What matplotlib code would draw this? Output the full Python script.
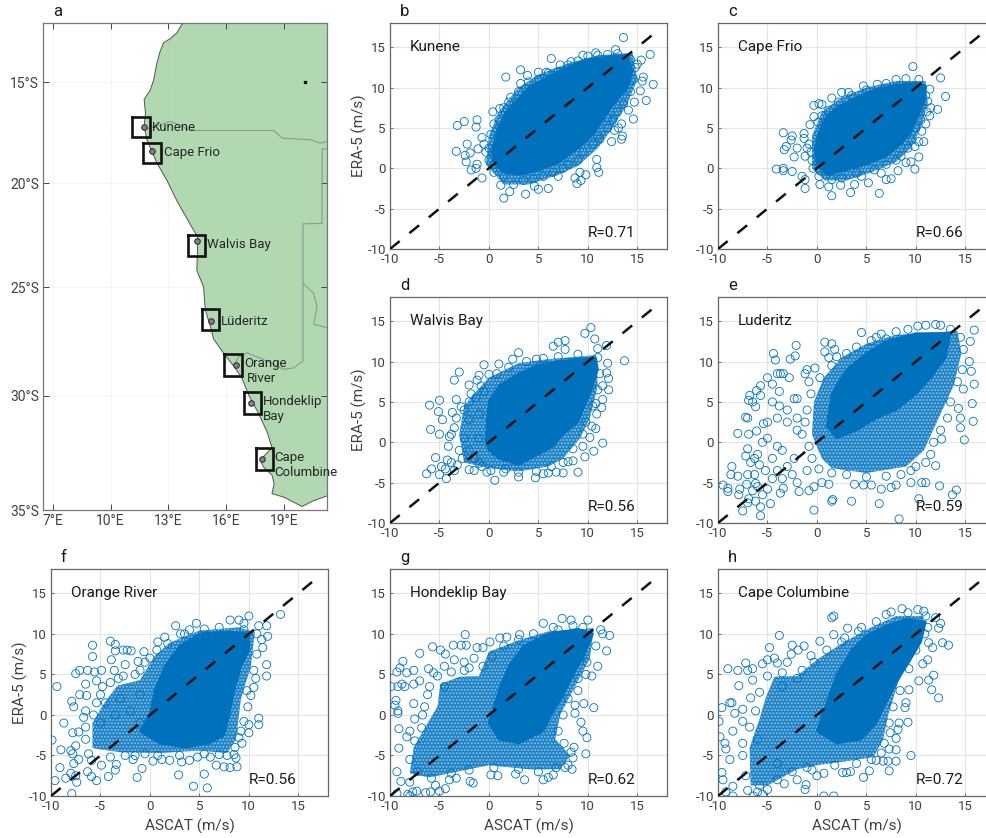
import numpy as np
import matplotlib
matplotlib.use('Agg')
import matplotlib.pyplot as plt

plt.rcParams['font.family'] = ['Roboto', 'DejaVu Sans']
plt.rcParams['axes.unicode_minus'] = False
plt.rcParams['hatch.linewidth'] = 0.35

# ---- map data (lon E, lat S) ----
coast_lon = [13.75, 13.44, 13.09, 12.75, 12.57, 12.4, 12.23, 12.05, 11.74, 11.81, 11.74, 11.88, 12.4, 12.92, 13.44, 14.14,
             14.52, 14.52, 14.48, 14.83, 14.92, 15.18, 15.35, 15.9, 16.4, 16.83, 17.17, 17.7, 18.13, 18.39, 17.78, 17.95,
             18.39, 18.5, 18.39, 19.0, 19.95, 20.56, 21.25]
coast_lat = [12.0, 12.5, 12.8, 13.0, 13.45, 14.05, 14.9, 15.4, 15.85, 16.55, 17.2, 17.85, 19.0, 19.85, 20.85, 22.0,
             22.6, 23.0, 24.2, 24.97, 26.05, 26.8, 27.4, 28.1, 28.65, 29.2, 29.95, 30.8, 31.6, 32.3, 32.85, 33.15,
             33.5, 33.87, 34.3, 34.45, 34.85, 34.6, 34.4]
angola_lon = [11.88, 12.57, 13.09, 13.53, 14.14, 18.48, 18.9, 20.39, 20.9, 21.25]
angola_lat = [17.33, 17.12, 16.95, 17.12, 17.4, 17.4, 17.78, 17.86, 18.03, 17.95]
namibia_lon = [21.25, 21.0, 20.99, 20.0, 20.0, 19.52, 19.0, 18.13, 17.09, 16.65, 16.4]
namibia_lat = [18.31, 18.31, 21.95, 21.97, 28.42, 28.73, 28.8, 28.42, 28.04, 28.22, 28.65]
botswana_lon = [20.0, 20.56, 20.73, 20.56, 21.25]
botswana_lat = [24.8, 25.28, 25.9, 26.73, 26.88]

station_lon = [11.74, 12.16, 14.5, 15.21, 16.5, 17.28, 17.87]
station_lat = [17.22, 18.44, 22.8, 26.58, 28.58, 30.3, 32.82]
box_w = [11.13, 11.7, 14.0, 14.73, 15.9, 16.91, 17.54]
box_e = [12.02, 12.6, 14.92, 15.62, 16.81, 17.82, 18.42]
box_n = [16.75, 18.0, 22.52, 26.0, 28.1, 29.82, 32.3]
box_s = [17.74, 19.02, 23.5, 27.0, 29.08, 30.8, 33.27]
map_labels = ['Kunene', 'Cape Frio', 'Walvis Bay', 'Lüderitz', 'Orange', 'River', 'Hondeklip', 'Bay', 'Cape', 'Columbine']
map_label_lon = [12.14, 12.75, 15.0, 15.73, 16.96, 17.1, 17.92, 17.92, 18.5, 18.5]
map_label_lat = [17.25, 18.47, 22.98, 26.61, 28.52, 29.2, 30.24, 30.92, 32.72, 33.4]

lon_ticks = [7, 10, 13, 16, 19]
lat_ticks = [15, 20, 25, 30, 35]

# ---- scatter data ----
# The reference has thousands of overlapping circles. The *_pts lists are circles read
# by eye; *_core / *_mid are outlines, traced by hand, of the areas where circles merge
# into solid colour (core) or a tight mesh (mid). The polygons stand in for the unreadable
# overlap, they are not individual measurements.
kunene_pts = [(13.6,16.2),(12.8,14.7),(10.8,14.3),(9.5,14.0),(6.3,13.6),(3.2,12.2),(1.7,11.3),(16.3,14.1),(15.4,13.4),(15.0,12.9),
    (15.6,11.3),(15.5,10.8),(16.6,10.4),(15.3,9.6),(15.9,8.4),(14.7,8.2),(14.1,7.2),(14.6,6.1),(13.4,5.5),(13.1,5.0),(12.0,6.3),
    (12.7,4.7),(13.5,4.0),(13.4,3.6),(12.4,3.3),(11.2,3.6),(10.9,1.1),(11.1,-0.5),(10.9,0.1),(9.8,-0.8),(9.2,-0.5),(9.3,-1.5),
    (8.7,-1.2),(8.9,-1.9),(6.0,-2.5),(5.0,-2.6),(3.7,-3.2),(1.5,-3.7),(2.1,-2.9),(1.2,-2.1),(4.6,-2.2),(7.0,-1.0),(-0.7,-1.2),
    (-3.3,2.1),(-3.2,5.3),(-2.5,5.8),(-1.3,5.1),(-1.2,6.0),(-0.7,3.8),(-2.2,3.0),(-2.4,1.6),(-2.3,0.8),(-1.9,1.9),(-1.1,2.4),
    (-1.2,0.5),(-1.3,0.0),(-1.8,-0.2),(0.4,7.0),(0.2,4.2),(2.2,8.8),(1.1,7.4),(3.2,10.5),(3.9,11.5),(5.0,11.9),(5.8,11.9),
    (7.2,12.8),(8.3,13.2),(0.0,2.5),(0.5,0.5),(1,6),(0.5,5.5),(1.5,7.5),(2,8.2),(3,9.5),(4,10.7),(5,11),(6,11.8),(7,12),(8,12.8),
    (9,13.3),(10,13.9),(11,14),(12,14.1),(13,14.2),(14.3,13.5),(14.8,12.5),(14.6,11),(14.3,9.5),(13.6,8),(13,7),(12.5,6),(12,5),
    (11,4),(10.5,3),(9.5,2),(9,1),(8,0.5),(7.5,0),(6.5,-0.5),(5.5,-1),(4.5,-1.3),(3.5,-1.5),(2.5,-2),(1.5,-1),(0.5,-0.5),(0,1),
    (-0.3,2),(-0.5,3)]
kunene_core = [(0.3,2),(0.8,4.5),(1.5,6.5),(2.5,8),(4,10),(5.5,11),(7.5,12.3),(10,13.5),(12,13.8),(14,14),(14.5,12),(14,10),(13,8.5),
    (12,7),(11,5),(10,3.5),(8.5,2),(7,0.7),(5,-0.3),(3,-0.8),(1.5,-0.5),(0.6,0.5)]
kunene_mid = [(-0.3,0.5),(0,4),(1,7),(3,10),(5,11.6),(8,13),(11,14),(14.5,14.3),(15,11),(14,8),(12.5,5),(11,2.5),(9,0.3),(7,-0.8),(4,-2),(1.5,-2)]

frio_pts = [(9.7,12.6),(12.5,11.2),(13,8.9),(12.2,7.3),(11.5,7.5),(11.4,6.5),(11,5.5),(10.6,4.6),(10.8,3.3),(10.3,3.3),(9.9,2.7),
    (10.3,1.4),(9.9,-0.1),(9.5,0.8),(9.0,0.7),(8.2,-0.3),(7.5,-1.3),(7.0,-1.4),(6.3,-3.1),(5.2,-1.8),(3.4,-3.0),(1.5,-3.4),
    (1.2,-2.3),(2.4,-2.1),(0.3,-2.0),(3.8,-2.0),(-1.2,-2.5),(-1.2,-1.4),(-1.5,-1.0),(-2.5,-0.4),(-4.1,-0.1),(-3.4,-0.3),(-3.4,0.0),
    (-2.3,1.4),(-3.3,2.3),(-3.1,2.7),(-3.4,4.4),(-2.5,4.0),(-2.6,3.5),(-1.3,4.3),(-1.3,3.7),(-2,2.5),(-1.2,1.5),(-0.7,5.4),
    (-0.3,6.4),(-0.3,7.8),(0.2,8.0),(0.5,7.9),(1.5,8.7),(2.5,9.4),(3.2,9.4),(4.7,10.2),(6.1,10.4),(8,11),(9,11.1),(-0.5,1.0),
    (-0.8,3),(0.1,5.7),(0.9,0.0),(4.5,-1.0),(6.5,-0.6),(8.5,1.5),(9.6,3.5),(11.1,7.0),(10.5,6.0),(11,9),(0.5,6.5),(1.2,7.2),(2.2,8.2),
    (3.5,9),(5,9.7),(7,10.5),(10.3,11),(11.4,9.8),(11.2,8.3),(10,5),(9.2,2.5),(8,1),(7,0.5),(5.8,-0.2),(4,-0.6),(2.5,-1.2),(1.5,-1.4),
    (0.2,-1),(-0.4,0),(-0.6,2),(-1,2.5),(0.3,-0.3)]
frio_core = [(0,0.5),(-0.2,2.5),(0.2,4.5),(1,6.5),(2,7.5),(4,8.8),(6,9.8),(8,10.3),(10,10.6),(11,10.2),(10.8,8),(10,6),(9.5,4.5),
    (8.5,3),(7,1.5),(5,0.5),(3,-0.2),(1,-0.8)]
frio_mid = [(-0.5,0),(-0.5,4),(0.5,7),(2.5,8.8),(5,10),(8,10.8),(11,10.8),(11.2,8),(10.5,5),(9.5,2.5),(8,0.8),(5.5,-0.5),(3,-1.5),(0.8,-1.5)]

walvis_pts = [(10.3,14.2),(9.7,13.5),(10.7,12.8),(7.7,12.6),(7,12.4),(6.5,11.9),(7.7,11.5),(11,11.6),(11.9,12),(13.7,10.1),(12,9.8),
    (11.9,8.6),(12.1,7.9),(12.1,6.5),(11.5,7),(11.5,5.3),(11.4,4.3),(10.8,4.8),(10.9,3.5),(10.4,2),(10.8,1.7),(11.5,-0.1),(10.6,-1.1),
    (9.7,-1.8),(9.5,-0.5),(10.2,0.6),(9.0,-3.7),(8.5,-2.3),(8,-2.4),(7.5,-3.8),(6.8,-3.7),(6,-3.8),(5.5,-3.9),(4.7,-4.4),(3,-4.3),
    (0.6,-4.7),(0.2,-3.5),(1.7,-3.3),(-4.3,-4.5),(-5,-4),(-6.3,-3.9),(-5.8,-3.3),(-5.4,-1.9),(-4.8,-3),(-4.2,-2.2),(-4.1,-0.5),
    (-4,0.7),(-5,1),(-5.9,1.6),(-4.7,2.8),(-5.1,3.8),(-6,4.6),(-5,5.2),(-3.3,5.3),(-2.8,4.4),(-3.7,3.7),(-3.5,7.7),(-3,8.7),(-2,7.1),
    (-1.2,7.7),(-1,8.3),(-0.5,9.6),(1,9.7),(0,8.4),(2.4,10.3),(3,11.1),(3.8,10),(4.8,10.3),(-2,5),(-1.3,5.5),(-0.5,6.3),(-3.5,1.8),
    (-3,-1),(-3.5,-3.5),(-2,-3.4),(-1.5,-2),(-2.5,0.5),(-2,2.8),(-1,3.5),(-1,0.5),(-0.7,-3),(-1,-2.6),(-3.8,-2.5),(-4.4,-3.3),(-3.2,-2.8),
    (-2.7,-2),(-2,-1),(-3.8,1),(-3.3,3),(-2.5,4),(-1.8,6),(-0.8,7),(0.8,8.5),(2,9.3),(5.5,10.4),(7,10.6),(9,10.9),(11,10.5),(11.2,8.5),
    (11,6.5),(10.5,4.5),(9.8,2.5),(9.5,1),(8.5,-0.8),(7.5,-2.5),(6.3,-3),(4.8,-3.6),(3,-3.7),(1.5,-3.7),(-0.2,-3.7),(-1.5,-3.5)]
walvis_core = [(-0.3,0),(-0.2,2.5),(0,5),(1,7),(3,8.5),(5,9.6),(7,10),(9,10.3),(10.8,10.5),(11,9),(10.5,7),(10,5.5),(9.5,4),(9,2.5),
    (7.5,1),(6.5,-0.5),(5,-1.5),(3,-2.8),(1,-2),(0,-1)]
walvis_mid = [(-2.5,-2.5),(-3,1),(-2.5,4.5),(-1.5,6),(0,8),(3,9.8),(6,10.3),(10.8,10.8),(11,7),(10.2,3),(9.2,0.5),(7.5,-2),(6,-3),(3,-3.6),
    (0,-3.2)]

luderitz_pts = [(4.5,13.6),(6.5,13.4),(6,13),(0.8,12.4),(1.5,12.2),(1.8,11.5),(0.8,11.2),(1.2,10.5),(2,10.6),(-2.1,12),(-2.2,10.7),
    (-2.7,10.3),(-4.4,11),(-4.2,10.2),(-4,8.5),(-3.7,8.5),(-3.4,8.5),(-2.8,8),(-1.2,8.5),(-1,9),(-0.8,7.5),(-0.2,9.2),(-5,8),(-4.5,7.2),
    (-5.7,7),(-6.1,6.4),(-5.7,5.8),(-6.8,5.8),(-6.9,5.2),(-6.5,5),(-6.2,4.4),(-4.5,5),(-3.8,6.3),(-3.8,4.5),(-2.3,5.4),(-2,5.4),(-7,3),
    (-7.2,3.1),(-5.4,2.3),(-8,1.1),(-6.9,1.0),(-6.1,1.4),(-7,-0.8),(-7.2,-1.7),(-6.3,-2),(-6.7,-2.5),(-8.6,-3),(-8.7,-4),(-8,-4.2),
    (-7,-4),(-9.5,-5.3),(-9,-5.7),(-9,-6.1),(-7.8,-5.8),(-7.9,-6.5),(-7.1,-5.2),(-6.2,-5.1),(-6,-5.5),(-5,-5.8),(-5.2,-3.5),(-4,-3.5),
    (-3.4,-5.7),(-3.7,-6.3),(-1.8,-6.1),(-0.8,-6),(-0.3,-5.5),(0.5,-5),(1.2,-5.2),(-7,-7.5),(-6.9,-7),(-7.5,-8.5),(-6.2,-7.3),(-5.7,-8),
    (-5.7,-9.1),(-4.7,-7.6),(-0.3,-8.4),(1.6,-7.1),(1.5,-7.3),(3.5,-7.3),(6.3,-7.6),(8.3,-9.5),(10.3,-7),(13.7,-6.5),(14.1,-5.9),
    (12.4,-5.4),(11,-5),(10.6,-5),(9.5,-5),(8,-5.3),(7.5,-5.6),(6.5,-5.8),(5.5,-5.3),(4.7,-5.3),(3.8,-5.2),(8.5,-4),(10,-3),(12,-2.9),
    (11.5,-1.5),(12.6,0.4),(14.9,0.3),(14.5,1.8),(14.5,3),(15.8,2.6),(15.7,4.8),(14.3,4.2),(15.9,7.2),(14.8,6.6),(15.6,8.8),(15.4,10),
    (15.5,12.5),(15.9,13.9),(14.5,13),(12,14.6),(11,14.5),(10.2,14.4),(12.5,14.5),(7,12.8),(-2.3,-2),(-4,-0.5),(-5,0.5),(-3,2.5),(-2,3),
    (-1,4),(-1.5,1),(-3,-3),(-2.5,-4),(-1,-3.5),(-0.5,-2),(-3,4),(-4,3),(-5,2.5),(-5.5,0),(-6,-1.5),(-4.5,-2),(-3.5,-1),(-2,1.5),(-1.2,2.5),
    (-0.6,6),(0.3,8),(1.5,9.5),(3,11),(4,11.8),(5.5,12.6),(8,13.7),(9.2,14),(13.5,14),(14.8,11.5),(14.7,9),(14.2,7.5),(13.5,5),(13.2,3),
    (12.5,1.5),(11.8,0),(11,-2.5),(9.5,-3.5),(7,-4.2),(5,-4.3),(3,-4),(1.5,-3.8),(0.2,-3.3),(-0.8,-0.5),(-6.3,-4),(-5.8,-2.8),(-4.5,-4.5),
    (-3.5,-4.5),(-2,-5),(-6.5,-6),(-5.5,-6.5)]
luderitz_core = [(1,2),(1.5,6),(3,9),(5,11),(7,12.5),(10,13.5),(13.5,13.5),(13,10.5),(11.5,8),(10,6),(8,4),(6,3),(4,1.5),(2,0.5)]
luderitz_mid = [(0.5,-2),(-0.5,1),(-0.3,5),(0.7,8),(2.5,10.5),(5,12.2),(8,13.3),(14.2,13.8),(14.6,11),(13.8,7),(12.3,3),(10.8,-1),(9,-3),(5,-3.8),(1.5,-3.2)]

orange_pts = [(13.2,12.4),(10,12.2),(8.1,11.7),(9,11.7),(9.5,11.3),(11,11),(11.8,11),(11.9,9.7),(11.3,9.3),(11.4,8.3),(11.8,6.2),(11.8,4.8),
    (10.5,5.5),(10.5,3.4),(10.2,2.4),(9.8,3),(11,-0.4),(11,-1.2),(10,-1.2),(10,-2.2),(9.2,-2),(9,-2.8),(8.6,-4),(8.5,-4.9),(8.7,-5.3),
    (8.8,-6.4),(8.1,-6.5),(7.5,-6.4),(6.7,-6.2),(7,-4.9),(6.1,-5.2),(5.5,-7.3),(5.8,-9),(4.4,-8.8),(2.9,-7.4),(4.8,-5.2),(4,-5.6),
    (3.2,-5.8),(2,-5.6),(1.2,-5.5),(0.3,-5.7),(-0.8,-6.6),(-1.3,-7.7),(-1.7,-5.5),(-4.2,-7.6),(-5.4,-8.1),(-5.9,-7.6),(-6.3,-7),
    (-3.5,-6.8),(-3.4,-6.1),(-4.9,-6.2),(-5.9,-5.6),(-7.2,-5.5),(-7.8,-4.8),(-8,-4.4),(-7.5,-3.8),(-7.8,-2.2),(-7.2,-2.1),(-6.5,-3),
    (-9.9,-3.1),(-9,-4.3),(-9.1,-6.5),(-9.6,-8.1),(-8.5,-7.8),(-8,-7.2),(-7.5,-7.5),(-7.4,-8.3),(-7.9,-9.7),(-7.7,-6),(-8.7,-1),(-9.4,3.5),
    (-7.9,1.7),(-7.7,1.0),(-7.1,2.5),(-6.5,3.8),(-6.4,2.4),(-6.5,0.5),(-6.7,-0.3),(-7.5,5.1),(-7.1,5.5),(-6.3,5.5),(-5.8,7.2),(-5.8,8.6),
    (-5.6,5.3),(-4.9,5.5),(-5.4,4.2),(-4.8,3.5),(-5.4,1.5),(-4,9.1),(-3.5,8.7),(-3.5,7.9),(-2.7,8),(-2.3,8),(-1.9,7.9),(-3.9,6.8),(-3.6,5.5),
    (-2.5,6.2),(-1.2,6.6),(-0.6,7.8),(-0.5,6.5),(0.8,9),(1.5,9.6),(2.6,11),(3.1,10),(4.7,11.3),(4,10.5),(-1.5,5),(-3.2,4.5),(-4.5,1.5),
    (-3,2),(-1,2.5),(-2,0.5),(-3.5,0),(-5,-1),(-1,-1),(-2.5,-5),(-0.5,-4.8),(-6.2,-4.8),(-6.5,-1.5),(-5.7,0),(-5,2.5),(-4,4),(-2.7,4.8),
    (-1,5.5),(0,7),(0.7,8),(1.8,8.8),(3.5,10),(5.5,10.6),(7,10.8),(9.5,10.5),(10.8,10),(10.8,7.5),(10.7,4.5),(9.9,1),(9.5,-0.8),(9.3,-3.5),
    (7.8,-5),(5.5,-4.8),(3,-5),(0.8,-5),(-1.5,-5),(-4,-5.2)]
orange_core = [(-1,-2),(0,0),(0.5,3),(1.5,6),(3,8.5),(5,10),(8,10.3),(10,10),(10,8),(9.2,6),(8.5,3),(8,0),(7.5,-2.5),(6,-3.5),(3.5,-4),(1,-3.5)]
orange_mid = [(-5.8,-4.1),(-5.8,-1),(-4.6,1.5),(-3.3,3.6),(-1,4.3),(0.5,7.3),(2,8.9),(5,10.4),(9,10.8),(10.6,10.2),(10.2,6),(9.2,2),(8.7,-3),(7.8,-4.7),(5,-4.4),(1,-4.7),(-3,-4.6)]

hondeklip_pts = [(7.4,11.9),(8.3,11.7),(8.5,11),(10,11.7),(11.3,10.5),(11.5,10),(12.2,9.8),(11.9,7.9),(11,6),(10.4,4.8),(9.8,5),(9,3),(9.6,1.4),
    (10.6,0.9),(8.7,1.2),(8.7,0.2),(9.3,-0.9),(9.5,-2),(9.9,-2.8),(9.8,-4.8),(8.6,-4),(8.3,-4.6),(8.4,-6.7),(7.7,-6.5),(6.8,-6.5),(6.5,-7.4),
    (6,-7.7),(5.5,-8),(3.6,-8),(2.7,-7.3),(0.9,-7.5),(0.2,-7.4),(-1.6,-8.4),(-1.9,-8.2),(-3.3,-7.8),(-4.4,-9.1),(-5,-9.4),(-5.4,-8.7),(-5.9,-9.5),
    (-6.4,-9.6),(-7.7,-9.5),(-8,-10),(-8.2,-9.8),(-9.3,-9.7),(-9.3,-7),(-8.9,-8.2),(-8,-8.3),(-7.3,-9.4),(-4,-8),(-9.9,3.5),(-9.4,1.8),(-9.2,3.5),
    (-8.8,3.8),(-8.5,3.5),(-9.3,5.3),(-9,5.8),(-8.7,6.6),(-8.3,5.2),(-7.6,5.5),(-7.6,3.8),(-7,4.2),(-7,7.6),(-6.1,5.7),(-5.7,8.4),(-5.6,5.2),
    (-4.9,8),(-4.4,7.5),(-3.6,8.6),(-2.8,8.6),(-2.3,8.6),(-2.4,9.9),(-1.2,8.3),(-0.6,8.3),(0.1,9),(1.1,9.5),(1.8,9.6),(3.1,9.9),(5.5,11.3),(6.5,10.8),
    (-9.5,1.2),(-9.2,0.5),(-9.2,0.2),(-9.1,-1.7),(-7.6,1.4),(-6.7,0),(-7.5,-0.5),(-8,-2),(-8.3,-2.7),(-9.1,-4.1),(-6.2,2.5),(-4.5,6),(-3.5,6.8),
    (-1.5,7),(-2.5,5.5),(-6.5,1),(-6,3.5),(-5.2,4.8),(-3.8,5.3),(-2,5.8),(-0.6,6),(0.3,7.2),(1.5,8.5),(3,9.3),(4.5,10),(7,10.5),(9.5,10.8),(10.8,8.5),
    (9.9,6.5),(9,4.5),(8,2),(7.5,0),(7,-2),(7.6,-3.5),(8.5,-5.3),(8,-6.2),(5,-7),(3,-6.7),(0.5,-6.5),(-2,-6.8),(-3.8,-7.2),(-5.8,-7.8),(-7.2,-7),(-8,-5.5),
    (-7.5,-3.2),(-6.8,-1.6),(-2.5,6.5),(-4.5,3.5)]
hondeklip_core = [(0,-1),(1,3),(2,6),(3.5,8.5),(6,10),(9,10.6),(10.5,10),(9.5,7),(8.5,5),(7.5,2.5),(6.3,0),(5.5,-2),(3,-3.5),(1,-3)]
hondeklip_mid = [(-8,-7.2),(-7.6,-4),(-6.2,-1),(-5.2,1),(-4.9,3.8),(-3,4.7),(-1,4.8),(0,7.8),(3,9.2),(6,10.3),(10.6,10.7),(10.2,7),(8.7,3.5),(7.2,0),(6.7,-3),(8.2,-5),
    (7.2,-6.7),(4,-6.7),(0,-6.2),(-4,-7.2),(-6,-7.7)]

columbine_pts = [(8.6,13.1),(7.5,12.7),(7,12.4),(10.2,13),(10.8,12.8),(12,12),(12.5,11.3),(12.3,10.7),(11.2,10.8),(12.7,8.9),(13.3,8.6),(11.7,8.3),
    (11.3,8.9),(11.2,6.8),(10.7,6.3),(11.8,4.9),(11.3,4.3),(10.3,4.2),(11.6,3.1),(12.3,2.1),(9.3,3.1),(9,1.5),(8.9,0.9),(9.2,-0.9),(8.3,-1),(8.2,-1.8),
    (7.4,-2.2),(8,-2.9),(8,-4.3),(7.3,-4.2),(6.5,-4.7),(8,-5.7),(9.5,-5),(7.2,-5.7),(6.7,-5.7),(6,-5.6),(7.3,-6.9),(5.3,-6.9),(4.7,-7.7),(3.4,-7),(3,-7.1),
    (2.6,-7.1),(1.7,-10),(0.7,-10),(-1.1,-8.6),(-1.2,-9.2),(0.7,-7.2),(0,-7.5),(-3.3,-8.5),(-5,-9.2),(-5.5,-9.8),(-6,-9.5),(-6.4,-10),(-7,-9.3),(-8.5,-10),
    (-9.2,-9.5),(-9.6,-7.1),(-9.5,-8),(-8.5,-8.8),(-9.9,-0.8),(-9.8,-2.7),(-9.3,-3.5),(-9.2,-4.2),(-8.8,-5.5),(-8.5,-2),(-9.6,0.9),(-8.8,1.5),(-8.6,1.5),
    (-8.3,0.2),(-7.5,0.7),(-7.5,-0.8),(-9,5.7),(-8,5.5),(-7.2,6.4),(-7,5.5),(-6.5,5.7),(-7.9,3.6),(-6.5,4.3),(-6.7,2.1),(-5.5,6.3),(-5,6.8),(-4.8,8.3),
    (-4.3,7),(-4,6.4),(-3.8,9.8),(-3,6.5),(-2.6,7.5),(-2.5,8.6),(-1.9,8),(-1.3,8.5),(-0.6,7.3),(0.3,9.1),(1.5,12),(1.7,12.2),(1.7,9.9),(2.5,9),(3.1,10.7),
    (4.2,10.3),(-3.5,3.5),(-2,4.5),(-6,-3),(-7.5,-5),(-4,-6),(-2,-8),(-1,-6.5),(-7.2,-7.5),(-7.5,-3.5),(-6.8,-1.5),(-6.2,0.5),(-5.8,2.8),(-5,4.8),(-3.5,5.2),
    (-1.5,5.5),(-0.3,6.5),(1,8),(2.8,9.5),(4.5,10.8),(6,11.5),(9.2,12.6),(11,12.2),(10.9,10),(10,8),(9.3,5.7),(8.4,3),(7.7,1),(7.3,-1),(6.8,-3.5),(5.5,-5.5),
    (4,-6),(1.8,-6.2),(-0.5,-6.8),(-2.5,-7),(-4,-8),(-5.8,-8.7)]
columbine_core = [(0,-2),(1,1.5),(2,5),(3.5,8),(5,9.8),(7,11),(9,11.8),(11,11.5),(10.5,9),(9.3,6.5),(8,4),(7,1.5),(6,-1),(4.5,-3),(2,-3.5)]
columbine_mid = [(-6.7,-8.7),(-6.8,-4),(-5.8,-0.5),(-5.2,2),(-4.3,4.7),(-2,4.8),(0,6.8),(2.5,8.8),(5,10.5),(8,12.2),(10.8,12.2),(10.2,9),(8.2,4),(7.2,0),(6.7,-3),(5.7,-5.2),
    (3,-5.7),(0,-6.2),(-2,-6.7),(-5,-8.7)]

panel_names = ['Kunene', 'Cape Frio', 'Walvis Bay', 'Luderitz', 'Orange River', 'Hondeklip Bay', 'Cape Columbine']
panel_letters = ['b', 'c', 'd', 'e', 'f', 'g', 'h']
r_values = [0.71, 0.66, 0.56, 0.59, 0.56, 0.62, 0.72]
panel_pts = [kunene_pts, frio_pts, walvis_pts, luderitz_pts, orange_pts, hondeklip_pts, columbine_pts]
panel_core = [kunene_core, frio_core, walvis_core, luderitz_core, orange_core, hondeklip_core, columbine_core]
panel_mid = [kunene_mid, frio_mid, walvis_mid, luderitz_mid, orange_mid, hondeklip_mid, columbine_mid]
one_to_one = [-10, 17.3]
scatter_ticks = [-10, -5, 0, 5, 10, 15]

W, H = 986, 838
BLUE = '#0072BD'
MESH = '#1f82c4'
TXT = '#404040'
fig = plt.figure(figsize=(W / 100, H / 100), dpi=100)


def px_axes(left, top, right, bottom):
    return fig.add_axes([left / W, 1 - bottom / H, (right - left) / W, (bottom - top) / H])


def merc(lat):
    lat = np.clip(np.asarray(lat, dtype=float), -85, 85)
    return np.log(np.tan(np.pi / 4 + np.radians(lat) / 2))


def merc_inv(y):
    return np.degrees(2 * np.arctan(np.exp(y)) - np.pi / 2)


# panel a, the map
ax = px_axes(43, 23, 327, 510)
ax.set_yscale('function', functions=(merc, merc_inv))
ax.set_xlim(6.48, 21.25)
ax.set_ylim(-35, -12)
land_lon = coast_lon + [21.25]
land_lat = [-v for v in coast_lat] + [-12]
ax.fill(land_lon + [13.75], land_lat + [-12], color='#B2D8B2', lw=0, zorder=1)
ax.plot(coast_lon, [-v for v in coast_lat], color='#4a5a4a', lw=0.7, zorder=3)
for blon, blat in [(angola_lon, angola_lat), (namibia_lon, namibia_lat), (botswana_lon, botswana_lat)]:
    ax.plot(blon, [-v for v in blat], color='#8c9a8c', lw=0.8, zorder=2)
ax.set_xticks(lon_ticks)
ax.set_xticklabels([f'{v}°E' for v in lon_ticks])
ax.set_yticks([-v for v in lat_ticks])
ax.set_yticklabels([f'{v}°S' for v in lat_ticks])
ax.minorticks_off()
ax.tick_params(direction='in', top=True, right=True, length=4, width=0.7, color='#444444', labelcolor=TXT, labelsize=10, pad=3)
ax.grid(True, color='#9fc89f', lw=0.4, ls=':', alpha=0.6, zorder=1.5)
for w, e, n, s in zip(box_w, box_e, box_n, box_s):
    ax.plot([w, e, e, w, w], [-n, -n, -s, -s, -n], color='#111111', lw=1.9, zorder=5, solid_joinstyle='miter')
ax.plot(station_lon, [-v for v in station_lat], ls='none', marker='o', ms=4, mfc='#8f7a98', mec='#222222', mew=0.7, zorder=6)
ax.plot([20.1], [-15], ls='none', marker='s', ms=1.5, color='black', zorder=4)
for lab, lo, la in zip(map_labels, map_label_lon, map_label_lat):
    ax.text(lo, -la, lab, fontsize=9.5, color='#262626', va='center', ha='left', zorder=7)
for sp in ax.spines.values():
    sp.set_color('#777777')
    sp.set_linewidth(0.9)
ax.text(10 / 284, 1 + 11 / 487, 'a', transform=ax.transAxes, fontsize=12, color='#1a1a1a', va='center')

# panels b to h
boxes = [(390, 23, 667, 249), (718, 23, 995, 249), (390, 297, 667, 523), (718, 297, 995, 523),
         (51, 569, 328, 796), (390, 569, 667, 796), (718, 569, 995, 796)]
for i, (l, t, r, b) in enumerate(boxes):
    ax = px_axes(l, t, r, b)
    ax.set_xlim(-10, 18)
    ax.set_ylim(-10, 18)
    ax.set_axisbelow(True)
    ax.grid(True, color='#e4e4e4', lw=0.8)
    mid = np.array(panel_mid[i])
    core = np.array(panel_core[i])
    ax.fill(mid[:, 0], mid[:, 1], facecolor=MESH, lw=0, zorder=2)
    ax.fill(mid[:, 0], mid[:, 1], facecolor='none', edgecolor='#6fb2e0', hatch='ooooo', lw=0, zorder=2.1)
    ax.fill(core[:, 0], core[:, 1], facecolor=BLUE, edgecolor=BLUE, lw=1.5, joinstyle='round', zorder=2.5)
    pts = np.array(panel_pts[i])
    ax.scatter(pts[:, 0], pts[:, 1], s=34, facecolors='none', edgecolors=BLUE, linewidths=0.6, zorder=3, clip_on=True)
    ax.plot(one_to_one, one_to_one, color='#111111', lw=1.8, dashes=(5, 5), dash_capstyle='butt', zorder=4)
    ax.set_xticks(scatter_ticks)
    ax.set_yticks(scatter_ticks)
    ax.tick_params(direction='in', length=2.5, width=0.6, color='#555555', labelcolor=TXT, labelsize=9.5, pad=3)
    for sp in ax.spines.values():
        sp.set_color('#666666')
        sp.set_linewidth(0.9)
    ax.text(-8, 15, panel_names[i], fontsize=11, color='#1a1a1a', va='center', ha='left', zorder=6)
    ax.text(10, -8, f'R={r_values[i]:.2f}', fontsize=11, color='#1a1a1a', va='center', ha='left', zorder=6)
    ax.text(10 / 277, 1 + 11 / 226, panel_letters[i], transform=ax.transAxes, fontsize=12, color='#1a1a1a', va='center')
    if l < 400 and panel_letters[i] != 'g':
        ax.set_ylabel('ERA-5 (m/s)', fontsize=11, color=TXT, labelpad=0)
    if t > 500:
        ax.set_xlabel('ASCAT (m/s)', fontsize=11, color=TXT, labelpad=4)

fig.savefig('out.png', dpi=100)
